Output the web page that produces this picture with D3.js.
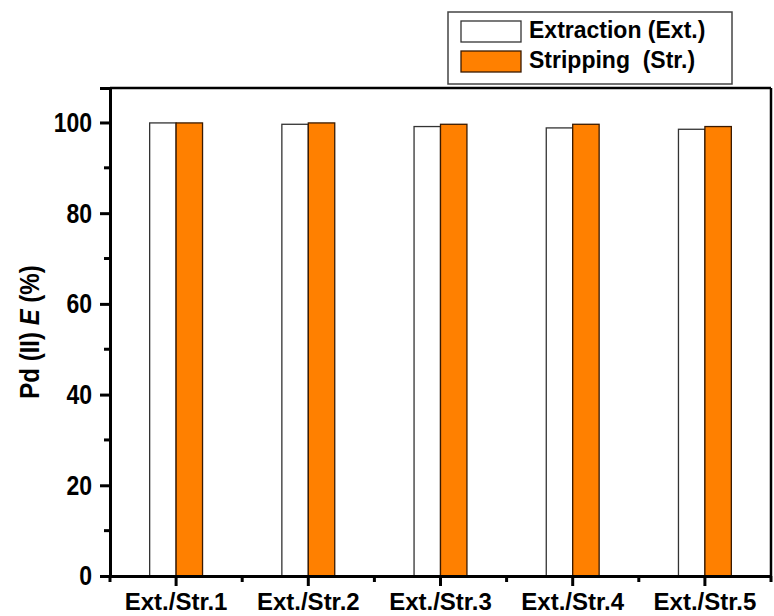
<!DOCTYPE html>
<html>
<head>
<meta charset="utf-8">
<script src="https://cdn.jsdelivr.net/npm/d3@7"></script>
<style>
  body { margin: 0; background: #fff; }
  svg text { font-family: "Liberation Sans", Arial, sans-serif; font-weight: bold; fill: #000; }
</style>
</head>
<body>
<div id="plot"></div>
<script>
// data
var categories = ["Ext./Str.1", "Ext./Str.2", "Ext./Str.3", "Ext./Str.4", "Ext./Str.5"];
var extraction = [99.9, 99.6, 99.1, 98.8, 98.5];
var stripping = [99.9, 99.9, 99.6, 99.6, 99.1];
var seriesNames = ["Extraction (Ext.)", "Stripping  (Str.)"];
var yTicks = [0, 20, 40, 60, 80, 100];
var yMinorTicks = [10, 30, 50, 70, 90];

var colors = ["#ffffff", "#ff8000"];
var strokes = ["#333333", "#3a1a00"];

var W = 774, H = 616;
var margin = {top: 88, right: 3, bottom: 40, left: 110};
var width = W - margin.left - margin.right;
var height = H - margin.top - margin.bottom;

var svg = d3.select("#plot").append("svg")
    .attr("width", W)
    .attr("height", H);

var g = svg.append("g")
    .attr("transform", "translate(" + margin.left + "," + margin.top + ")");

var xScale = d3.scaleBand()
    .domain(categories)
    .range([0, width])
    .padding(0);

var yScale = d3.scaleLinear()
    .domain([0, 107.6])
    .range([height, 0]);

var barW = xScale.bandwidth() * 0.2;

// bars
var table = categories.map(function(c, i) {
  return {cat: c, values: [extraction[i], stripping[i]]};
});

var groups = g.selectAll(".grp")
    .data(table)
  .enter().append("g")
    .attr("class", "grp")
    .attr("transform", function(d) {
      return "translate(" + (xScale(d.cat) + xScale.bandwidth() / 2) + ",0)";
    });

groups.selectAll("rect")
    .data(function(d) { return d.values; })
  .enter().append("rect")
    .attr("x", function(d, i) { return (i - 1) * barW; })
    .attr("y", function(d) { return yScale(d); })
    .attr("width", barW)
    .attr("height", function(d) { return height - yScale(d); })
    .style("fill", function(d, i) { return colors[i]; })
    .style("stroke", function(d, i) { return strokes[i]; })
    .style("stroke-width", 1.3);

// frame (top and right)
g.append("line")
    .attr("x1", 0).attr("x2", width).attr("y1", 0).attr("y2", 0)
    .style("stroke", "#000").style("stroke-width", 2.5);
g.append("line")
    .attr("x1", width).attr("x2", width).attr("y1", 0).attr("y2", height)
    .style("stroke", "#000").style("stroke-width", 2.5);

// y axis
var yAxis = d3.axisLeft(yScale).tickValues(yTicks).tickSize(10).tickPadding(8);
var yAx = g.append("g").attr("class", "y axis").call(yAxis);
yAx.select(".domain").style("stroke-width", 3);
yAx.selectAll(".tick line").style("stroke-width", 3);
yAx.selectAll(".tick text")
    .style("font-size", "23px")
    .attr("font-family", null)
    .attr("transform", "scale(1,1.22)");
yAx.selectAll(".minor")
    .data(yMinorTicks)
  .enter().append("line")
    .attr("x1", -6).attr("x2", 0)
    .attr("y1", function(d) { return yScale(d); })
    .attr("y2", function(d) { return yScale(d); })
    .style("stroke", "#000").style("stroke-width", 3);

// x axis
var xAxis = d3.axisBottom(xScale).tickSize(10).tickPadding(7).tickSizeOuter(0);
var xAx = g.append("g")
    .attr("class", "x axis")
    .attr("transform", "translate(0," + height + ")")
    .call(xAxis);
xAx.select(".domain").style("stroke-width", 3);
xAx.selectAll(".tick line").style("stroke-width", 3);
xAx.selectAll(".tick text")
    .style("font-size", "24px")
    .attr("font-family", null);
var xMinor = d3.range(categories.length + 1).map(function(i) { return i * xScale.bandwidth(); });
xAx.selectAll(".minor")
    .data(xMinor)
  .enter().append("line")
    .attr("x1", function(d) { return d; })
    .attr("x2", function(d) { return d; })
    .attr("y1", 0).attr("y2", 6)
    .style("stroke", "#000").style("stroke-width", 3);

// y label
var yLabel = svg.append("text")
    .attr("transform", "translate(39," + (margin.top + height / 2) + ") rotate(-90) scale(1,1.15)")
    .style("text-anchor", "middle")
    .style("font-size", "24px");
yLabel.append("tspan").text("Pd (II) ");
yLabel.append("tspan").style("font-style", "italic").text("E");
yLabel.append("tspan").text(" (%)");

// legend
var legend = svg.append("g").attr("transform", "translate(448,12)");
legend.append("rect")
    .attr("width", 284).attr("height", 72)
    .style("fill", "#fff").style("stroke", "#444").style("stroke-width", 1.5);
var items = legend.selectAll(".item")
    .data(seriesNames)
  .enter().append("g")
    .attr("class", "item")
    .attr("transform", function(d, i) { return "translate(13," + (9 + i * 30) + ")"; });
items.append("rect")
    .attr("width", 60).attr("height", 21)
    .style("fill", function(d, i) { return colors[i]; })
    .style("stroke", function(d, i) { return strokes[i]; })
    .style("stroke-width", 1.3);
items.append("text")
    .attr("x", 68).attr("y", 17)
    .attr("xml:space", "preserve")
    .style("white-space", "pre")
    .style("font-size", "23px")
    .text(function(d) { return d; });
</script>
</body>
</html>
